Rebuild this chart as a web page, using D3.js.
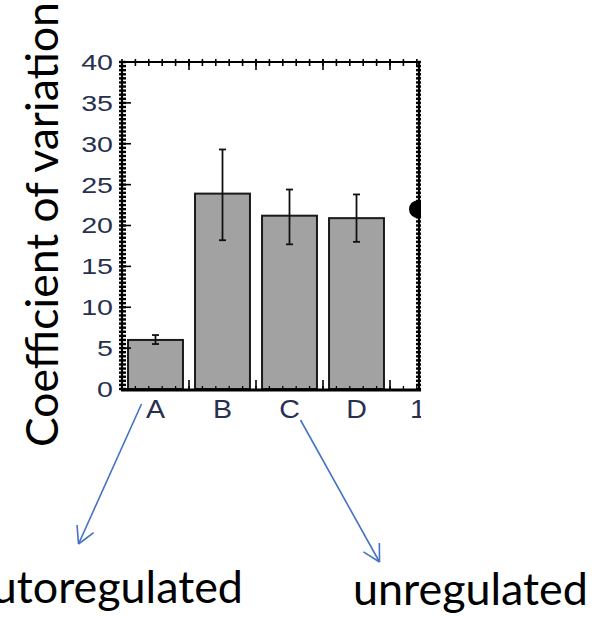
<!DOCTYPE html>
<html>
<head>
<meta charset="utf-8">
<script src="https://cdn.jsdelivr.net/npm/d3@7"></script>
<style>
  body { margin: 0; background: #fff; }
  svg { display: block; }
</style>
</head>
<body>
<svg id="chart"></svg>
<script>
// data
const categories = ['A', 'B', 'C', 'D'];
const cvMean = [6.0, 23.9, 21.2, 20.9];
const cvLow  = [5.5, 18.2, 17.7, 18.0];
const cvHigh = [6.6, 29.3, 24.4, 23.8];
const yTicks = [0, 5, 10, 15, 20, 25, 30, 35, 40];
// neighbouring panel, cut off at the right edge
const nextPanelLabel = '1';
const nextPanelValue = 22.0;
const annotations = ['autoregulated', 'unregulated'];

const width = 605, height = 617;
const margin = {top: 62, left: 122, bottom: 617 - 389};
const frameRight = 419;
const step = 67;

const svg = d3.select('#chart').attr('width', width).attr('height', height);

svg.append('clipPath').attr('id', 'cut')
  .append('rect').attr('x', 0).attr('y', 0).attr('width', 421).attr('height', 440);

const yscale = d3.scaleLinear().domain([0, 40]).range([height - margin.bottom, margin.top]);
const xscale = d3.scaleBand()
  .domain([...categories, nextPanelLabel])
  .range([margin.left, margin.left + step * 5])
  .paddingInner(0.18)
  .paddingOuter(0.09);

const y0 = yscale(0), yTop = yscale(40);
const chart = svg.append('g').attr('clip-path', 'url(#cut)');

const rows = categories.map((c, i) => ({c, v: cvMean[i], lo: cvLow[i], hi: cvHigh[i]}));

// bars
chart.selectAll('.bar').data(rows).join('rect')
  .attr('class', 'bar')
  .attr('x', d => xscale(d.c))
  .attr('y', d => yscale(d.v))
  .attr('width', xscale.bandwidth())
  .attr('height', d => y0 - yscale(d.v))
  .attr('fill', '#a2a2a2')
  .attr('stroke', '#1a1a1a')
  .attr('stroke-width', 2);

// error bars
const eb = chart.selectAll('.err').data(rows).join('g').attr('class', 'err')
  .attr('stroke', '#111').attr('stroke-width', 1.8);
eb.append('line')
  .attr('x1', d => xscale(d.c) + xscale.bandwidth() / 2)
  .attr('x2', d => xscale(d.c) + xscale.bandwidth() / 2)
  .attr('y1', d => yscale(d.lo)).attr('y2', d => yscale(d.hi));
['lo', 'hi'].forEach(k => {
  eb.append('line')
    .attr('x1', d => xscale(d.c) + xscale.bandwidth() / 2 - 3.5)
    .attr('x2', d => xscale(d.c) + xscale.bandwidth() / 2 + 3.5)
    .attr('y1', d => yscale(d[k])).attr('y2', d => yscale(d[k]));
});

// minor tick positions
const halfUnits = d3.range(0, 40.01, 0.5);
const xMinor = d3.range(0, 26).map(k => margin.left + k * step / 5);
const xMajor = d3.range(1, 5).map(k => margin.left + k * step);

const ax = chart.append('g').attr('stroke', '#000');
// left and right axis ticks (through the line)
[margin.left, frameRight].forEach((xa, j) => {
  ax.selectAll(null).data(halfUnits).join('line')
    .attr('x1', xa - 3).attr('x2', xa + (j === 0 ? 4 : 3))
    .attr('y1', d => yscale(d)).attr('y2', d => yscale(d))
    .attr('stroke-width', 2.4);
});
ax.selectAll(null).data(yTicks).join('line')
  .attr('x1', margin.left).attr('x2', margin.left + 9)
  .attr('y1', d => yscale(d)).attr('y2', d => yscale(d))
  .attr('stroke-width', 1.6);

// top and bottom ticks
ax.selectAll(null).data(xMinor).join('line')
  .attr('x1', d => d).attr('x2', d => d)
  .attr('y1', yTop - 3).attr('y2', yTop + 4).attr('stroke-width', 1.6);
ax.selectAll(null).data(xMajor).join('line')
  .attr('x1', d => d).attr('x2', d => d)
  .attr('y1', yTop - 3).attr('y2', yTop + 8).attr('stroke-width', 1.6);
ax.selectAll(null).data(xMinor).join('line')
  .attr('x1', d => d).attr('x2', d => d)
  .attr('y1', y0 - 3).attr('y2', y0).attr('stroke-width', 1.3);
ax.selectAll(null).data(xMajor).join('line')
  .attr('x1', d => d).attr('x2', d => d)
  .attr('y1', y0 - 9).attr('y2', y0).attr('stroke-width', 1.6);

// frame lines
ax.append('line').attr('x1', margin.left).attr('x2', frameRight + 2)
  .attr('y1', yTop).attr('y2', yTop).attr('stroke-width', 2.2);
ax.append('line').attr('x1', margin.left - 1).attr('x2', frameRight + 2)
  .attr('y1', y0 + 1).attr('y2', y0 + 1).attr('stroke-width', 3);
ax.append('line').attr('x1', margin.left).attr('x2', margin.left)
  .attr('y1', yTop).attr('y2', y0).attr('stroke-width', 2.2);
ax.append('line').attr('x1', frameRight).attr('x2', frameRight)
  .attr('y1', yTop).attr('y2', y0).attr('stroke-width', 2.2);

// point of the next panel
chart.append('circle')
  .attr('cx', frameRight - 1).attr('cy', yscale(nextPanelValue)).attr('r', 9)
  .attr('fill', '#000');

// tick labels
const tickColor = '#28304f';
svg.append('g').selectAll('text').data(yTicks).join('text')
  .attr('transform', d => `translate(113, ${yscale(d)}) scale(1.3, 1)`)
  .attr('text-anchor', 'end')
  .attr('dy', '0.36em')
  .style('font-family', '"Liberation Sans", Arial, sans-serif')
  .style('font-size', '22px')
  .attr('fill', tickColor)
  .text(d => d);

chart.append('g').selectAll('text').data([...categories, nextPanelLabel]).join('text')
  .attr('transform', (d, i) => {
    const cx = i < categories.length ? xscale(d) + xscale.bandwidth() / 2 : frameRight - 1;
    return `translate(${cx}, 418) scale(1.1, 1)`;
  })
  .attr('text-anchor', 'middle')
  .style('font-family', '"Liberation Sans", Arial, sans-serif')
  .style('font-size', '26px')
  .attr('fill', tickColor)
  .text(d => d);

// y axis title, sized to its span in the figure
const font = 'Lato, "Open Sans", sans-serif';
function fitText(sel, target) {
  const w = sel.node().getComputedTextLength();
  sel.style('font-size', (48 * target / w) + 'px');
}
const title = svg.append('text')
  .attr('transform', 'translate(58, 224.5) rotate(-90)')
  .attr('text-anchor', 'middle')
  .style('font-family', font).style('font-size', '48px')
  .attr('fill', '#000')
  .text('Coefficient of variation');
fitText(title, 445);

const t1 = svg.append('text')
  .attr('x', 243).attr('y', 603)
  .attr('text-anchor', 'end')
  .style('font-family', font).style('font-size', '48px')
  .text(annotations[0]);
const t2 = svg.append('text')
  .attr('x', 353).attr('y', 605)
  .style('font-family', font).style('font-size', '48px')
  .text(annotations[1]);
fitText(t2, 235);
t1.style('font-size', t2.style('font-size'));

// arrows from the labels A and C
const blue = '#4472c4';
function arrow(x1, y1, x2, y2) {
  const g = svg.append('g').attr('stroke', blue).attr('stroke-width', 1.6).attr('fill', 'none');
  g.append('line').attr('x1', x1).attr('y1', y1).attr('x2', x2).attr('y2', y2);
  const a = Math.atan2(y1 - y2, x1 - x2), len = 19, spread = 0.5;
  [a - spread, a + spread].forEach(t => {
    g.append('line').attr('x1', x2).attr('y1', y2)
      .attr('x2', x2 + len * Math.cos(t)).attr('y2', y2 + len * Math.sin(t));
  });
}
const cA = xscale('A') + xscale.bandwidth() / 2;
const cC = xscale('C') + xscale.bandwidth() / 2;
arrow(cA - 14, 404, cA - 77, 544);
arrow(cC + 11, 420, cC + 90, 562);
</script>
</body>
</html>
